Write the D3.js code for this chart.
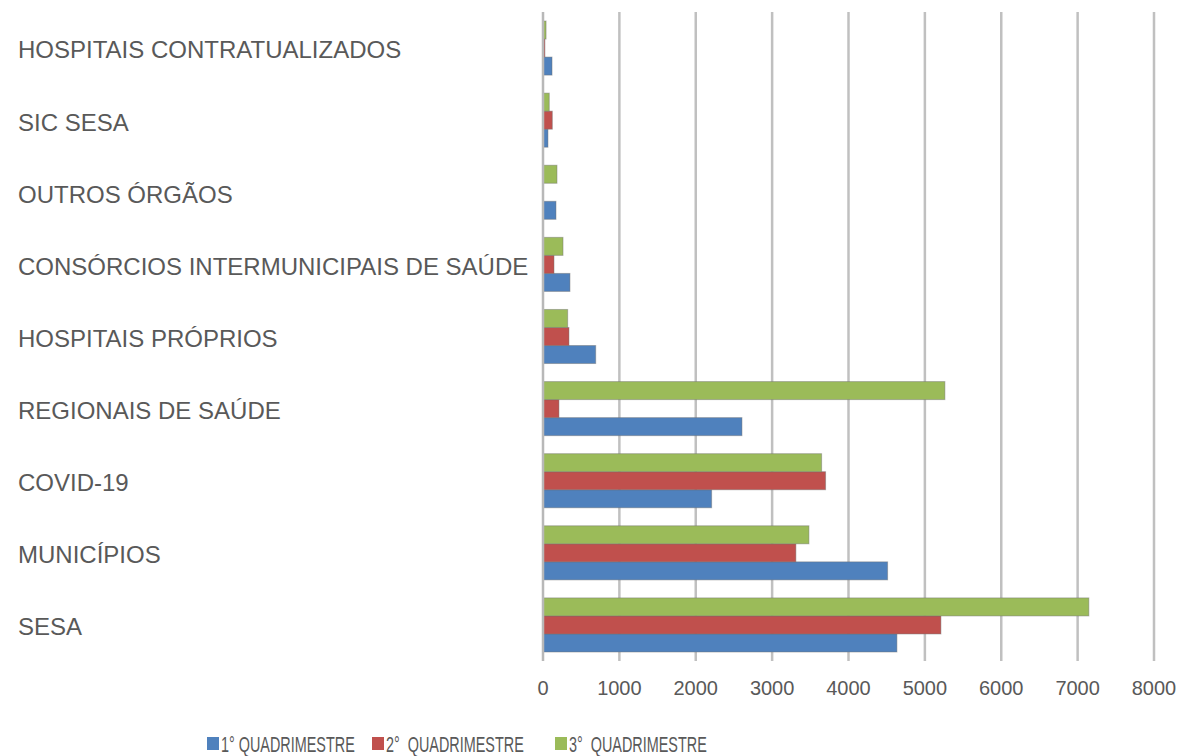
<!DOCTYPE html>
<html>
<head>
<meta charset="utf-8">
<script src="https://cdn.jsdelivr.net/npm/d3@7"></script>
<style>
  body { margin: 0; background: #fff; }
  text { font-family: "Liberation Sans", Arial, sans-serif; fill: #595959; }
</style>
</head>
<body>
<div id="chart"></div>
<script>
// categories top to bottom
var categories = ["HOSPITAIS CONTRATUALIZADOS", "SIC SESA", "OUTROS ÓRGÃOS",
  "CONSÓRCIOS INTERMUNICIPAIS DE SAÚDE", "HOSPITAIS PRÓPRIOS", "REGIONAIS DE SAÚDE",
  "COVID-19", "MUNICÍPIOS", "SESA"];
var seriesNames = ["1° QUADRIMESTRE", "2°  QUADRIMESTRE", "3°  QUADRIMESTRE"];
var q1 = [118, 65, 170, 353, 690, 2605, 2208, 4512, 4634];
var q2 = [25, 122, 5, 144, 340, 209, 3700, 3311, 5210];
var q3 = [40, 82, 183, 262, 323, 5262, 3648, 3482, 7147];
var xTicks = [0, 1000, 2000, 3000, 4000, 5000, 6000, 7000, 8000];
var colors = ["#4F81BD", "#C0504D", "#9BBB59"];

var W = 1183, H = 756;
var plot = {left: 543, right: 1154, top: 12, bottom: 661};

var svg = d3.select("#chart").append("svg")
  .attr("width", W).attr("height", H);

var x = d3.scaleLinear().domain([0, 8000]).range([plot.left, plot.right]);
var y = d3.scaleBand().domain(categories).range([plot.top, plot.bottom])
  .paddingInner(0.25).paddingOuter(0.125);
// green on top, blue at the bottom
var ys = d3.scaleBand().domain([2, 1, 0]).range([0, y.bandwidth()]);

// gridlines
svg.append("g").selectAll("line")
  .data(xTicks.slice(1))
  .enter().append("line")
  .attr("x1", function(d) { return x(d); })
  .attr("x2", function(d) { return x(d); })
  .attr("y1", plot.top).attr("y2", plot.bottom)
  .attr("stroke", "#c0c0c0").attr("stroke-width", 2.5);

var data = [q1, q2, q3];
var rows = [];
categories.forEach(function(c, i) {
  data.forEach(function(s, k) { rows.push({cat: c, k: k, v: s[i]}); });
});

svg.append("g").selectAll("rect")
  .data(rows)
  .enter().append("rect")
  .attr("x", x(0))
  .attr("y", function(d) { return y(d.cat) + ys(d.k); })
  .attr("width", function(d) { return x(d.v) - x(0); })
  .attr("height", ys.bandwidth())
  .attr("fill", function(d) { return colors[d.k]; })
  .attr("stroke", "rgba(110,110,110,0.45)")
  .attr("stroke-width", 1);

// vertical axis line
svg.append("line")
  .attr("x1", x(0)).attr("x2", x(0))
  .attr("y1", plot.top).attr("y2", plot.bottom)
  .attr("stroke", "#b8b8b8").attr("stroke-width", 2.5);

// category labels
svg.append("g").selectAll("text")
  .data(categories)
  .enter().append("text")
  .attr("x", 18)
  .attr("y", function(d) { return y(d) + y.bandwidth() / 2 + 2; })
  .attr("dy", "0.35em")
  .style("font-size", "24px")
  .text(function(d) { return d; });

// x tick labels
svg.append("g").selectAll("text")
  .data(xTicks)
  .enter().append("text")
  .attr("x", function(d) { return x(d); })
  .attr("y", 688)
  .attr("dy", "0.35em")
  .attr("text-anchor", "middle")
  .style("font-size", "20px")
  .text(function(d) { return d; });

// legend
var legX = [207, 372, 555];
var leg = svg.append("g");
seriesNames.forEach(function(n, i) {
  leg.append("rect")
    .attr("x", legX[i]).attr("y", 737)
    .attr("width", 12).attr("height", 13)
    .attr("fill", colors[i]);
  var tx = legX[i] + 14;
  leg.append("text")
    .attr("x", tx).attr("y", 744)
    .attr("dy", "0.35em")
    .style("font-size", "22px")
    .style("white-space", "pre")
    .attr("transform", "translate(" + tx + ",0) scale(0.655,1) translate(" + (-tx) + ",0)")
    .text(n);
});
</script>
</body>
</html>
